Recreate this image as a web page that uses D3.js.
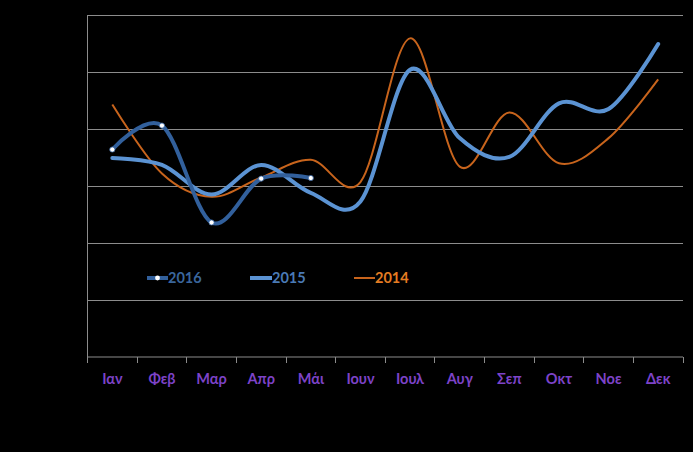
<!DOCTYPE html>
<html><head><meta charset="utf-8">
<script src="https://cdn.jsdelivr.net/npm/d3@7"></script>
<style>html,body{margin:0;padding:0;background:#000;}svg{display:block;}</style>
</head><body>
<svg id="c" width="693" height="452"></svg>
<script>
const months = ["Ιαν","Φεβ","Μαρ","Απρ","Μάι","Ιουν","Ιουλ","Αυγ","Σεπ","Οκτ","Νοε","Δεκ"];
const yTicks = [0,1,2,3,4,5,6];
const s2016 = [3.64,4.06,2.36,3.13,3.14];
const s2015 = [3.49,3.37,2.85,3.37,2.88,2.73,5.04,3.84,3.51,4.45,4.35,5.49];
const s2014 = [4.43,3.22,2.81,3.15,3.46,3.07,5.59,3.34,4.29,3.40,3.84,4.87];

(function(){
const svg = d3.select("#c");
const pLeft=87.5, pRight=683, pTop=15, pBottom=357;
const x = d3.scaleBand().domain(months).range([pLeft,pRight]);
const y = d3.scaleLinear().domain([0,6]).range([pBottom,pTop]);

// gridlines
svg.append("g").selectAll("line").data(yTicks.slice(1)).join("line")
  .attr("x1",pLeft).attr("x2",pRight).attr("y1",d=>y(d)).attr("y2",d=>y(d))
  .attr("stroke","#8c8c8c").attr("stroke-width",1).attr("shape-rendering","crispEdges");
// left axis
svg.append("line").attr("x1",pLeft).attr("x2",pLeft).attr("y1",pTop).attr("y2",pBottom+6)
  .attr("stroke","#8c8c8c").attr("shape-rendering","crispEdges");

// x axis
const xa = svg.append("g").attr("transform",`translate(0,${pBottom})`)
  .call(d3.axisBottom(x).tickSize(0).tickPadding(17));
xa.select(".domain").attr("stroke","#8c8c8c").attr("d",`M${pLeft},0H${pRight}`);
xa.selectAll("text").attr("fill","#7d43c8").attr("font-family","Lato, 'Open Sans', sans-serif")
  .attr("font-weight","bold").attr("font-size","14.5px");
// boundary ticks
svg.append("g").selectAll("line").data(months.concat(["end"])).join("line")
  .attr("x1",(d,i)=> i<months.length ? x(d) : pRight).attr("x2",(d,i)=> i<months.length ? x(d) : pRight)
  .attr("y1",pBottom).attr("y2",pBottom+6).attr("stroke","#8c8c8c").attr("shape-rendering","crispEdges");

const cx = i => x(months[i]) + x.bandwidth()/2;
const line = d3.line().x((d,i)=>cx(i)).y(d=>y(d)).curve(d3.curveCardinal.tension(0));

svg.append("path").datum(s2014).attr("d",line).attr("fill","none")
  .attr("stroke","#c8641c").attr("stroke-width",2);
svg.append("path").datum(s2015).attr("d",line).attr("fill","none")
  .attr("stroke","#5b93d3").attr("stroke-width",4).attr("stroke-linecap","round");
svg.append("path").datum(s2016).attr("d",line).attr("fill","none")
  .attr("stroke","#32609c").attr("stroke-width",4).attr("stroke-linecap","round");
svg.append("g").selectAll("circle").data(s2016).join("circle")
  .attr("cx",(d,i)=>cx(i)).attr("cy",d=>y(d)).attr("r",2.6)
  .attr("fill","#fff").attr("stroke","#32609c").attr("stroke-width",0.8);

// legend
const legend = [
  {name:"2016", color:"#32609c", text:"#3a669c", w:4, marker:true, x1:147, x2:168},
  {name:"2015", color:"#5b93d3", text:"#4a7ab5", w:4, marker:false, x1:250, x2:272},
  {name:"2014", color:"#c8641c", text:"#e47c22", w:2, marker:false, x1:354, x2:375}
];
const ly = 278;
const lg = svg.append("g").selectAll("g").data(legend).join("g");
lg.append("line").attr("x1",d=>d.x1).attr("x2",d=>d.x2).attr("y1",ly).attr("y2",ly)
  .attr("stroke",d=>d.color).attr("stroke-width",d=>d.w);
lg.filter(d=>d.marker).append("circle").attr("cx",d=>(d.x1+d.x2)/2).attr("cy",ly).attr("r",2.4).attr("fill","#fff");
lg.append("text").attr("x",d=>d.x2).attr("y",ly).attr("dy","0.35em").text(d=>d.name)
  .attr("fill",d=>d.text).attr("font-family","Lato, 'Open Sans', sans-serif")
  .attr("font-weight","bold").attr("font-size","14.5px");
})();
</script>
</body></html>
